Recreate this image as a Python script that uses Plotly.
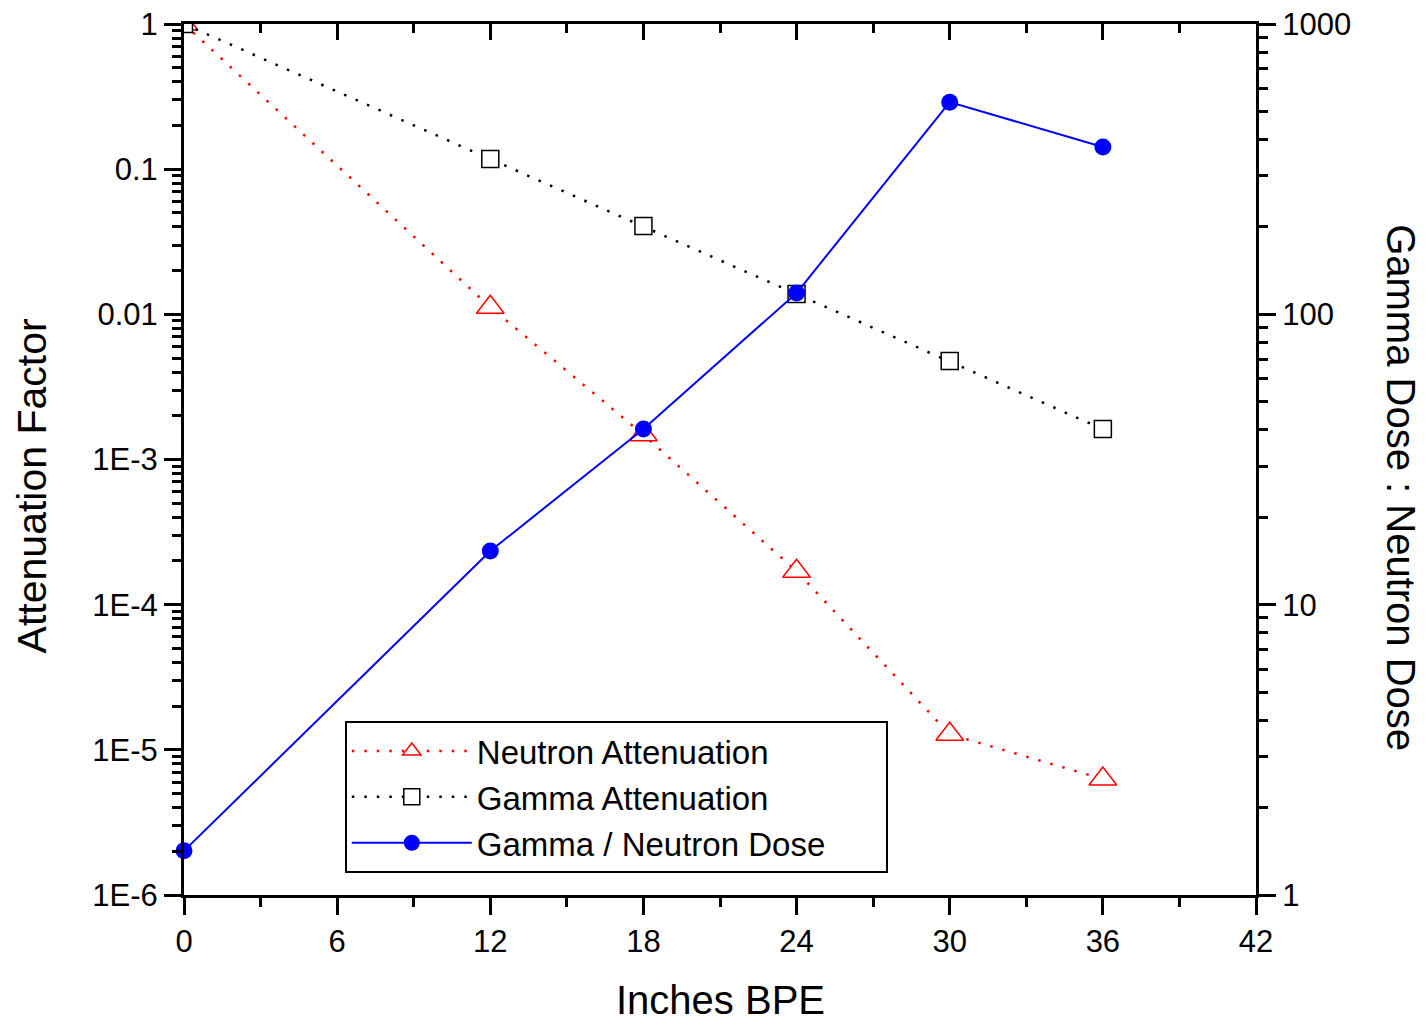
import plotly.graph_objects as go

inches = [0, 12, 18, 24, 30, 36]
neutron_atten = [1.0, 0.0112, 0.00148, 1.7e-4, 1.28e-5, 6.3e-6]
gamma_atten = [1.0, 0.1175, 0.0406, 0.0138, 0.00477, 0.00162]
gamma_neutron_ratio = [1.42, 15.3, 40.3, 118.4, 538, 377]

left_tickvals = [1, 0.1, 0.01, 1e-3, 1e-4, 1e-5, 1e-6]
left_ticktext = ["1", "0.1", "0.01", "1E-3", "1E-4", "1E-5", "1E-6"]
right_tickvals = [1, 10, 100, 1000]
right_ticktext = ["1", "10", "100", "1000"]
x_tickvals = [0, 6, 12, 18, 24, 30, 36, 42]
x_minor_vals = [3, 9, 15, 21, 27, 33, 39]

FONT = "Liberation Sans, Arial, sans-serif"
PAD = "\u00a0" * 6

def minor_log(decades):
    vals = []
    for d in decades:
        for m in range(2, 10):
            vals.append(m * d)
    return vals

left_minor = minor_log([1e-6, 1e-5, 1e-4, 1e-3, 1e-2, 1e-1])
right_minor = minor_log([1, 10, 100])

fig = go.Figure()

fig.add_trace(go.Scatter(
    x=inches, y=neutron_atten, name="Neutron Attenuation" + PAD,
    mode="lines+markers",
    line=dict(color="red", width=2.5, dash="2.5px,10px"),
    marker=dict(symbol="triangle-up", size=24, color="white", line=dict(width=1.5, color="red")),
    xaxis="x", yaxis="y",
))
fig.add_trace(go.Scatter(
    x=inches, y=gamma_atten, name="Gamma Attenuation" + PAD,
    mode="lines+markers",
    line=dict(color="black", width=2.5, dash="2.5px,10px"),
    marker=dict(symbol="square", size=17, color="white", line=dict(width=1.5, color="black")),
    xaxis="x", yaxis="y",
))
fig.add_trace(go.Scatter(
    x=inches, y=gamma_neutron_ratio, name="Gamma / Neutron Dose" + PAD,
    mode="lines+markers",
    line=dict(color="#0000ff", width=2),
    marker=dict(symbol="circle", size=17, color="#0000ff"),
    xaxis="x2", yaxis="y2", cliponaxis=False,
))

axis_common = dict(showgrid=False, zeroline=False, linecolor="black", linewidth=3,
                   tickcolor="black", tickwidth=3, automargin=False,
                   tickfont=dict(family=FONT, size=31, color="black"))

fig.update_layout(
    width=1425, height=1023,
    margin=dict(l=184, r=169, t=24, b=128, autoexpand=False),
    paper_bgcolor="white", plot_bgcolor="white",
    font=dict(family=FONT, color="black"),
    xaxis=dict(range=[0, 42], tickvals=x_tickvals, ticks="outside", ticklen=17,
               minor=dict(tickvals=x_minor_vals, ticks="outside", ticklen=9, tickwidth=3, tickcolor="black"),
               **axis_common),
    xaxis2=dict(range=[0, 42], matches="x", overlaying="x", side="top", tickvals=x_tickvals,
                ticks="inside", ticklen=16, showticklabels=False,
                minor=dict(tickvals=x_minor_vals, ticks="inside", ticklen=9, tickwidth=3, tickcolor="black"),
                **axis_common),
    yaxis=dict(type="log", range=[-6, 0], tickvals=left_tickvals, ticktext=left_ticktext,
               ticks="outside", ticklen=17,
               minor=dict(tickvals=left_minor, ticks="outside", ticklen=9, tickwidth=3, tickcolor="black"),
               **axis_common),
    yaxis2=dict(type="log", range=[0, 3], overlaying="y", side="right",
                tickvals=right_tickvals, ticktext=right_ticktext,
                ticks="outside", ticklen=17,
                minor=dict(tickvals=right_minor, ticks="outside", ticklen=9, tickwidth=3, tickcolor="black"),
                **axis_common),
    legend=dict(x=0.150, y=0.1998, xanchor="left", yanchor="top",
                bgcolor="white", bordercolor="black", borderwidth=2,
                font=dict(family=FONT, size=33, color="black"),
                itemwidth=120, tracegroupgap=0),
    showlegend=True,
    annotations=[
        dict(text="Attenuation Factor", xref="paper", yref="paper", x=-0.142, y=0.47,
             xanchor="center", yanchor="middle", textangle=-90, showarrow=False,
             font=dict(family=FONT, size=41, color="black")),
        dict(text="Gamma Dose : Neutron Dose", xref="paper", yref="paper", x=1.1345, y=0.468,
             xanchor="center", yanchor="middle", textangle=90, showarrow=False,
             font=dict(family=FONT, size=40, color="black")),
        dict(text="Inches BPE", xref="paper", yref="paper", x=0.5, y=-0.1206,
             xanchor="center", yanchor="middle", showarrow=False,
             font=dict(family=FONT, size=40, color="black")),
    ],
)

fig.write_html("out.html")
